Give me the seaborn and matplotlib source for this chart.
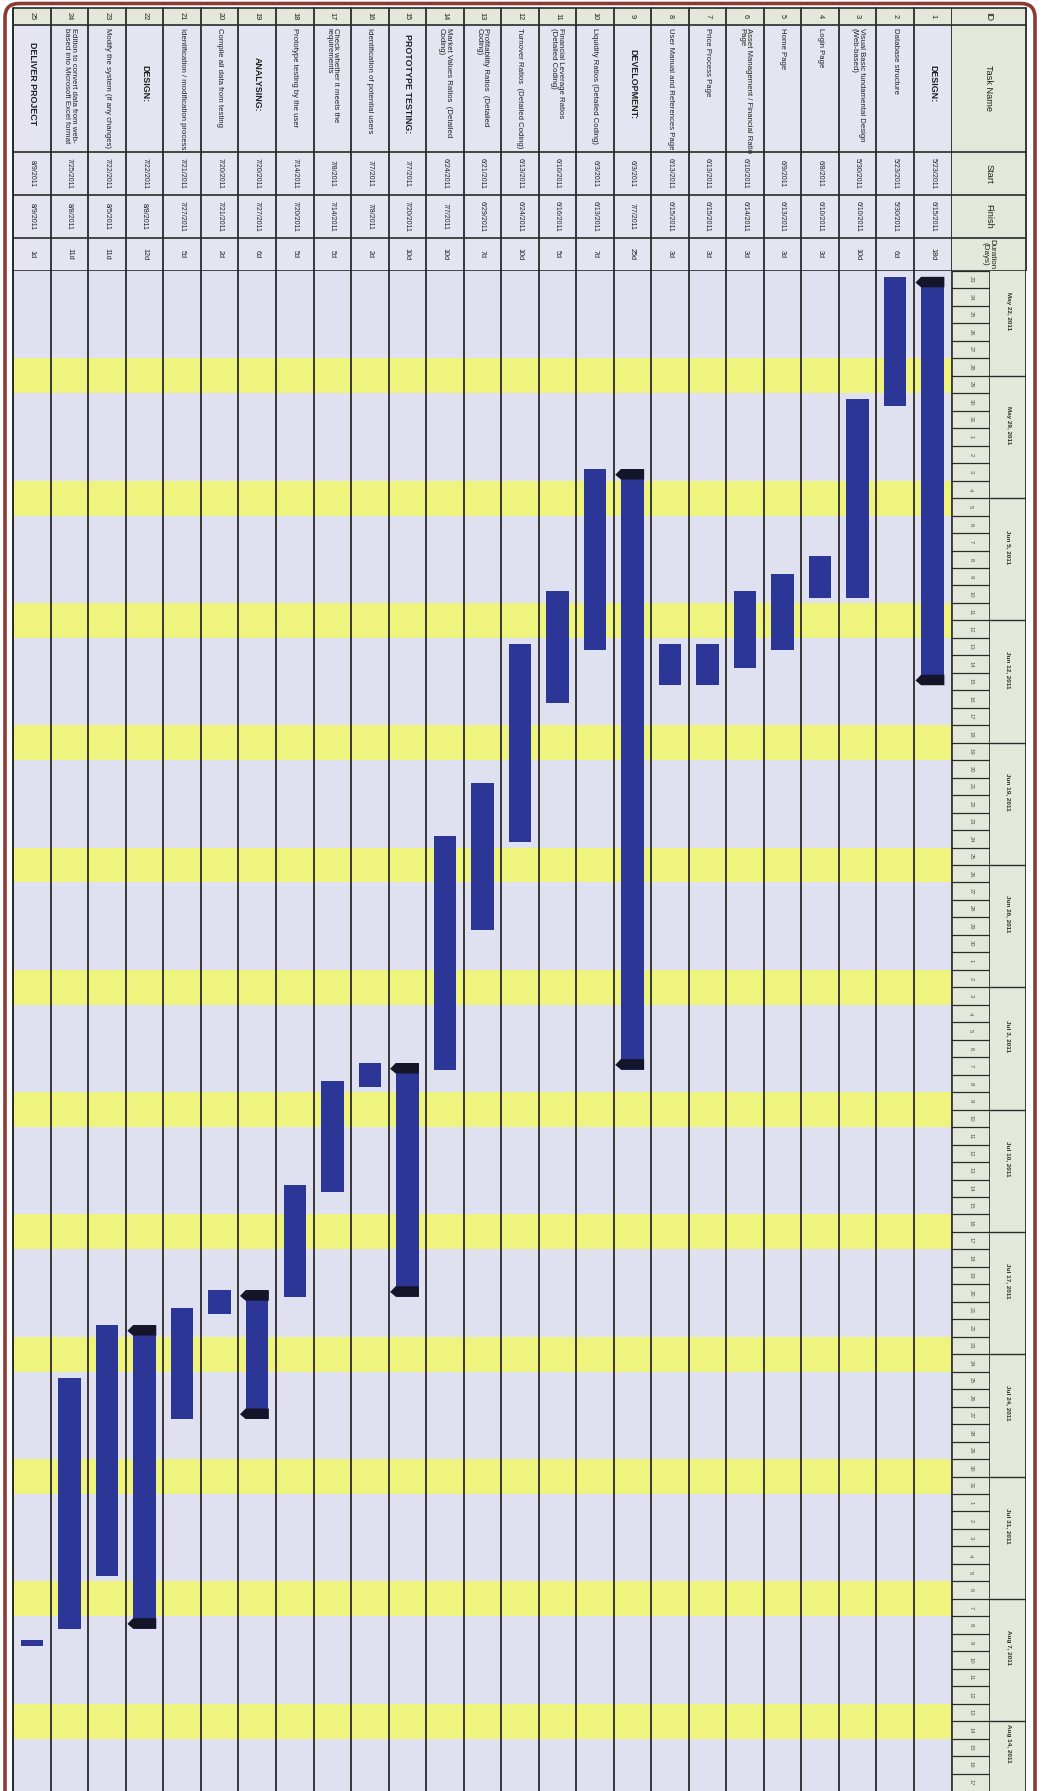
import numpy as np
import pandas as pd
import matplotlib
matplotlib.use("Agg")
import matplotlib.pyplot as plt
import seaborn as sns
from matplotlib.patches import Rectangle, FancyBboxPatch, Polygon

# ---------------- data ----------------
task_ids = list(range(1, 26))
task_names = [
    "DESIGN:",
    "Database structure",
    "Visual Basic fundamental Design\n(Web-based)",
    "Login Page",
    "Home Page",
    "Asset Management / Financial Ratio\nPage",
    "Price Process Page",
    "User Manual and References Page",
    "DEVELOPMENT:",
    "Liquidity Ratios (Detailed Coding)",
    "Financial Leverage Ratios\n(Detailed Coding)",
    "Turnover Ratios  (Detailed Coding)",
    "Profitability Ratios  (Detailed\nCoding)",
    "Market Values Ratios  (Detailed\nCoding)",
    "PROTOTYPE TESTING:",
    "Identification of potential users",
    "Check whether it meets the\nrequirements",
    "Prototype testing by the user",
    "ANALYSING:",
    "Compile all data from testing",
    "Identification / modification process",
    "DESIGN:",
    "Modify the system (if any changes)",
    "Edition to convert data from web-\nbased into Microsoft Excel format",
    "DELIVER PROJECT",
]
start_dates = [
    "5/23/2011", "5/23/2011", "5/30/2011", "6/8/2011", "6/9/2011",
    "6/10/2011", "6/13/2011", "6/13/2011", "6/3/2011", "6/3/2011",
    "6/10/2011", "6/13/2011", "6/21/2011", "6/24/2011", "7/7/2011",
    "7/7/2011", "7/8/2011", "7/14/2011", "7/20/2011", "7/20/2011",
    "7/21/2011", "7/22/2011", "7/22/2011", "7/25/2011", "8/9/2011",
]
finish_dates = [
    "6/15/2011", "5/30/2011", "6/10/2011", "6/10/2011", "6/13/2011",
    "6/14/2011", "6/15/2011", "6/15/2011", "7/7/2011", "6/13/2011",
    "6/16/2011", "6/24/2011", "6/29/2011", "7/7/2011", "7/20/2011",
    "7/8/2011", "7/14/2011", "7/20/2011", "7/27/2011", "7/21/2011",
    "7/27/2011", "8/8/2011", "8/5/2011", "8/8/2011", "8/9/2011",
]
durations = [
    "18d", "6d", "10d", "3d", "3d", "3d", "3d", "3d", "25d", "7d",
    "5d", "10d", "7d", "10d", "10d", "2d", "5d", "5d", "6d", "2d",
    "5d", "12d", "11d", "11d", "1d",
]
summary_ids = [1, 9, 15, 19, 22]
bold_ids = [1, 9, 15, 19, 22, 25]
week_labels = [
    "May 22, 2011", "May 29, 2011", "Jun 5, 2011", "Jun 12, 2011",
    "Jun 19, 2011", "Jun 26, 2011", "Jul 3, 2011", "Jul 10, 2011",
    "Jul 17, 2011", "Jul 24, 2011", "Jul 31, 2011", "Aug 7, 2011",
    "Aug 14, 2011",
]
timeline_start = "2011-05-23"
timeline_days = 87

# ---------------- styling ----------------
sns.set_theme(style="white")
plt.rcParams["font.family"] = ["Liberation Sans Narrow", "Liberation Sans", "DejaVu Sans"]

C_BG = "#dfe0f0"
C_YEL = "#eef47e"
C_HDR = "#e3e8da"
C_CELL = "#e5e5f1"
C_BAR = "#2c3696"
C_LINE = "#2a2a2a"
C_FRAME = "#8c3b34"
C_TXT = "#202020"

W, H = 1045, 1791
fig = plt.figure(figsize=(W / 100, H / 100), dpi=100)
fig.patch.set_facecolor("white")


def frac(x0, y0, x1, y1):
    return [x0 / W, 1 - y1 / H, (x1 - x0) / W, (y1 - y0) / H]


GX0, GX1 = 13.3, 951.5
GY0 = 271
DAYX1 = 990
HX1 = 1026

T0 = pd.Timestamp(timeline_start)
df = pd.DataFrame({
    "id": [str(i) for i in task_ids],
    "name": task_names,
    "start": pd.to_datetime(start_dates, format="%m/%d/%Y"),
    "finish": pd.to_datetime(finish_dates, format="%m/%d/%Y"),
    "dur": durations,
})
df["s"] = (df["start"] - T0).dt.days + 8 / 24
df["e"] = (df["finish"] - T0).dt.days + 17 / 24
df["len"] = df["e"] - df["s"]

# ---------------- gantt area ----------------
ax = fig.add_axes(frac(GX0, GY0, GX1, H))
ax.set_facecolor(C_BG)
sns.barplot(data=df, x="id", y="len", order=df["id"].tolist(),
            bottom=df["s"].to_numpy(), color=C_BAR, saturation=1,
            width=0.6, errorbar=None, linewidth=0, ax=ax, zorder=3)
ax.set_xlim(len(task_ids) - 0.5, -0.5)
ax.set_ylim(timeline_days, 0)

days = pd.date_range(T0, periods=timeline_days, freq="D")
for d, dt in enumerate(days):
    if dt.weekday() >= 5:
        ax.axhspan(d, d + 1, color=C_YEL, zorder=0.5, lw=0)
for k in range(len(task_ids) + 1):
    ax.axvline(k - 0.5, color=C_LINE, lw=1.3, zorder=2)

# summary caps
cap_h = 0.6
for i, tid in enumerate(task_ids):
    if tid in summary_ids:
        s, e = df.loc[i, "s"], df.loc[i, "e"]
        for y0 in (s, e - cap_h):
            poly = Polygon([(i - 0.31, y0), (i + 0.31, y0), (i + 0.46, y0 + cap_h * 0.55),
                            (i + 0.31, y0 + cap_h), (i - 0.31, y0 + cap_h)],
                           closed=True, color="#15152a", zorder=4, lw=0)
            ax.add_patch(poly)

ax.set_xlabel("")
ax.set_ylabel("")
ax.set_xticks([])
ax.set_yticks([])
for sp in ax.spines.values():
    sp.set_visible(False)

# ---------------- task table ----------------
tab = fig.add_axes(frac(GX0, 0, GX1, GY0))
tab.set_xlim(len(task_ids) - 0.5, -0.5)
tab.set_ylim(GY0, 0)
tab.axis("off")
tab.add_patch(Rectangle((-0.5, 8), len(task_ids), 17, color=C_HDR, zorder=0))
tab.add_patch(Rectangle((-0.5, 25), len(task_ids), GY0 - 25, color=C_CELL, zorder=0))
for yy in (8, 25, 152, 195, 238, GY0 - 0.5):
    tab.plot([-0.5, len(task_ids) - 0.5], [yy, yy], color=C_LINE, lw=1.2, zorder=2)
for k in range(len(task_ids) + 1):
    tab.plot([k - 0.5, k - 0.5], [8, GY0], color=C_LINE, lw=1.3, zorder=2)

for i, tid in enumerate(task_ids):
    kw = dict(rotation=-90, rotation_mode="anchor", color=C_TXT, zorder=3)
    tab.text(i, 16.5, str(tid), ha="center", va="center", fontsize=5.3, **kw)
    if tid in bold_ids:
        tab.text(i, 84, task_names[i], ha="center", va="center", fontsize=6.4,
                 fontweight="bold", **kw)
    else:
        tab.text(i, 28.5, task_names[i], ha="left", va="center", fontsize=5.6,
                 linespacing=1.0, **kw)
    tab.text(i, 173.5, start_dates[i], ha="center", va="center", fontsize=5.0, **kw)
    tab.text(i, 216.5, finish_dates[i], ha="center", va="center", fontsize=5.0, **kw)
    tab.text(i, 254, durations[i], ha="center", va="center", fontsize=5.2, **kw)

# ---------------- header column ----------------
hdr = fig.add_axes(frac(GX1, 0, W, GY0))
hdr.set_xlim(GX1, W)
hdr.set_ylim(GY0, 0)
hdr.axis("off")
hdr.add_patch(Rectangle((GX1, 8), HX1 - GX1, GY0 - 8, color=C_HDR, zorder=0))
for yy in (8, 25, 152, 195, 238, GY0 - 0.5):
    hdr.plot([GX1, HX1], [yy, yy], color=C_LINE, lw=1.2, zorder=2)
hdr.plot([HX1, HX1], [8, GY0], color=C_LINE, lw=1.3, zorder=2)
xc = (GX1 + HX1) / 2
hkw = dict(rotation=-90, rotation_mode="anchor", ha="center", va="center",
           color=C_TXT, fontsize=6.6)
hdr.text(xc, 16.5, "ID", **hkw)
hdr.text(xc, 88, "Task Name", **hkw)
hdr.text(xc, 173.5, "Start", **hkw)
hdr.text(xc, 216.5, "Finish", **hkw)
hdr.text(xc, 254, "Duration\n(Days)", linespacing=1.0, **{**hkw, "fontsize": 5.8})

# day cells
dax = fig.add_axes(frac(GX1, GY0, DAYX1, H))
dax.set_xlim(0, 1)
dax.set_ylim(timeline_days, 0)
dax.axis("off")
dax.add_patch(Rectangle((0, 0), 1, timeline_days, color=C_HDR, zorder=0))
for d, dt in enumerate(days):
    dax.plot([0, 1], [d, d], color=C_LINE, lw=0.9, zorder=2)
    dax.text(0.5, d + 0.5, str(dt.day), rotation=-90, rotation_mode="anchor",
             ha="center", va="center", fontsize=4.2, color="#555555", zorder=3)
dax.plot([1, 1], [0, timeline_days], color=C_LINE, lw=1.2, zorder=2)
dax.plot([0, 0], [0, timeline_days], color=C_LINE, lw=1.2, zorder=2)

# week cells
wax = fig.add_axes(frac(DAYX1, GY0, HX1, H))
wax.set_xlim(0, 1)
wax.set_ylim(timeline_days, 0)
wax.axis("off")
wax.add_patch(Rectangle((0, 0), 1, timeline_days, color=C_HDR, zorder=0))
for d, dt in enumerate(days):
    if dt.weekday() == 6:
        wax.plot([0, 1], [d, d], color=C_LINE, lw=1.0, zorder=2)
week_starts = [(pd.Timestamp(w) - T0).days for w in week_labels]
for ws, lab in zip(week_starts, week_labels):
    lo, hi = max(ws, 0), min(ws + 7, timeline_days)
    wax.text(0.5, (lo + hi) / 2 - 0.7, lab, rotation=-90, rotation_mode="anchor",
             ha="center", va="center", fontsize=4.6, fontweight="bold",
             color="#303030", zorder=3)
wax.plot([1, 1], [0, timeline_days], color=C_LINE, lw=1.3, zorder=2)

# ---------------- outer frame ----------------
ov = fig.add_axes([0, 0, 1, 1])
ov.set_xlim(0, W)
ov.set_ylim(H, 0)
ov.axis("off")
ov.patch.set_alpha(0)
ov.add_patch(FancyBboxPatch((5, 3.5), 1030, 1850,
                            boxstyle="round,pad=0,rounding_size=14",
                            fill=False, edgecolor=C_FRAME, lw=2.6, zorder=5))
ov.plot([GX0, GX0], [8, H], color=C_LINE, lw=1.4, zorder=5)

fig.savefig("out.png", dpi=100, facecolor="white")
